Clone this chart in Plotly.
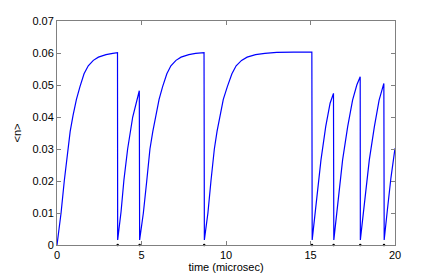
import plotly.graph_objects as go

# Segments of <n>(t) (t in microsec)
seg1_t = [0, 0.24, 0.43, 0.63, 0.78, 0.95, 1.15, 1.36, 1.6, 1.85, 2.15, 2.45, 2.9, 3.3, 3.58]
seg1_n = [0, 0.010, 0.020, 0.030, 0.0355, 0.0405, 0.0455, 0.0495, 0.0535, 0.056, 0.0577, 0.0587, 0.0595, 0.0599, 0.0601]

seg2_t = [3.59, 3.79, 3.96, 4.18, 4.48, 4.68, 4.87]
seg2_n = [0.0016, 0.0104, 0.0203, 0.030, 0.040, 0.0445, 0.0482]

seg3_t = [4.89, 5.11, 5.31, 5.5, 5.67, 5.84, 6.04, 6.25, 6.5, 6.74, 7.04, 7.34, 7.8, 8.2, 8.70]
seg3_n = [0.0016, 0.010, 0.020, 0.030, 0.0355, 0.0405, 0.0455, 0.0495, 0.0535, 0.056, 0.0577, 0.0587, 0.0595, 0.0599, 0.0601]

seg4_t = [8.72, 8.93, 9.11, 9.31, 9.47, 9.64, 9.84, 10.08, 10.35, 10.6, 10.92, 11.25, 11.75, 12.3, 13.0, 14.0, 15.08]
seg4_n = [0.0016, 0.010, 0.020, 0.030, 0.0355, 0.0405, 0.0455, 0.0495, 0.0535, 0.056, 0.0577, 0.0587, 0.0595, 0.0599, 0.0602, 0.0603, 0.0603]

seg5_t = [15.1, 15.35, 15.62, 15.9, 16.16, 16.36]
seg5_n = [0.0016, 0.0141, 0.0266, 0.037, 0.0443, 0.0474]

seg6_t = [16.38, 16.64, 16.9, 17.2, 17.49, 17.74, 17.94]
seg6_n = [0.0016, 0.0141, 0.0266, 0.037, 0.0453, 0.050, 0.0526]

seg7_t = [17.95, 18.22, 18.48, 18.78, 19.06, 19.34]
seg7_n = [0.0016, 0.0141, 0.0266, 0.037, 0.0453, 0.0505]

seg8_t = [19.36, 19.55, 19.76, 20.0]
seg8_n = [0.0016, 0.011, 0.021, 0.0302]

reset_t = [3.59, 4.89, 8.71, 15.09, 16.37, 17.945, 19.35]
reset_n = [0, 0, 0, 0, 0, 0, 0]

x_ticks = [0, 5, 10, 15, 20]
y_ticks = [0, 0.01, 0.02, 0.03, 0.04, 0.05, 0.06, 0.07]
y_ticktext = ["0", "0.01", "0.02", "0.03", "0.04", "0.05", "0.06", "0.07"]

t_all = seg1_t + seg2_t + seg3_t + seg4_t + seg5_t + seg6_t + seg7_t + seg8_t
n_all = seg1_n + seg2_n + seg3_n + seg4_n + seg5_n + seg6_n + seg7_n + seg8_n

fig = go.Figure()
fig.add_trace(go.Scatter(x=t_all, y=n_all, mode="lines",
                         line=dict(color="#0000ff", width=1.2),
                         showlegend=False, hoverinfo="skip"))
fig.add_trace(go.Scatter(x=reset_t, y=reset_n, mode="markers",
                         marker=dict(color="black", size=2.5),
                         showlegend=False, hoverinfo="skip", cliponaxis=False))

font = dict(family="Liberation Sans, Arial, Helvetica, sans-serif", size=11, color="black")
axis_common = dict(showline=True, linecolor="#808080", linewidth=1, mirror="ticks",
                   ticks="inside", ticklen=4, tickcolor="#808080", tickwidth=1,
                   showgrid=False, zeroline=False, tickfont=font, automargin=False)

# page body has an 8px default margin, so the figure is sized/offset for it
fig.update_layout(
    width=428, height=268,
    margin=dict(l=49, r=41, t=13, b=31),
    paper_bgcolor="white", plot_bgcolor="white",
    font=font,
    xaxis=dict(range=[0, 20], tickvals=x_ticks, ticktext=[str(v) for v in x_ticks],
               title=dict(text="time (microsec)", font=font, standoff=2), **axis_common),
    yaxis=dict(range=[0, 0.07], tickvals=y_ticks, ticktext=y_ticktext,
               title=dict(text="&lt;n&gt;", font=font, standoff=8), **axis_common),
)
fig.write_html("out.html")
